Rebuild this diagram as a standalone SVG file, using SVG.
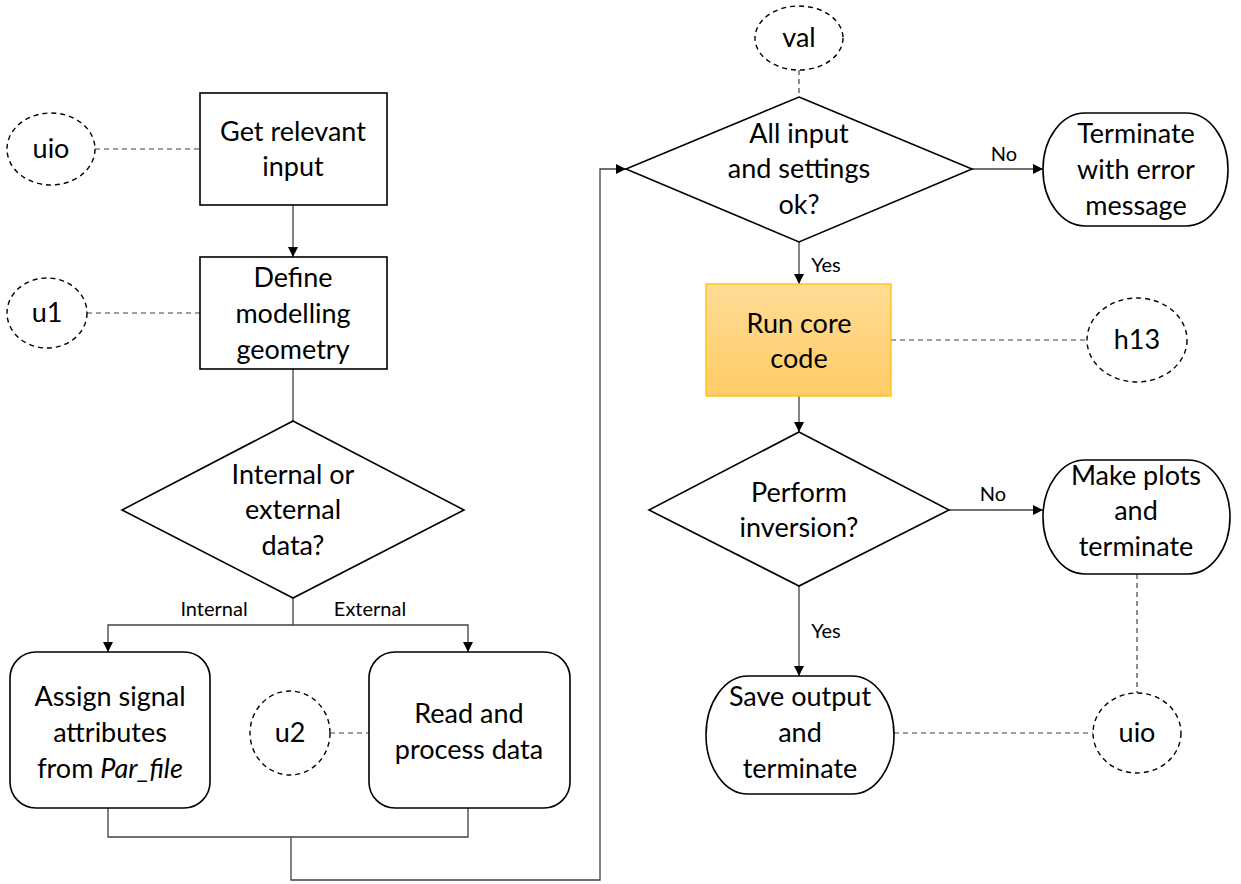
<svg xmlns="http://www.w3.org/2000/svg" width="1241" height="884" viewBox="0 0 1241 884">
  <style>
    .box { fill: #ffffff; stroke: #000000; stroke-width: 1.6; }
    .ref { fill: #ffffff; stroke: #000000; stroke-width: 1.4; stroke-dasharray: 5 4; }
    .flow { fill: none; stroke: #404040; stroke-width: 1.3; }
    .arrow { fill: none; stroke: #404040; stroke-width: 1.3; marker-end: url(#head); }
    .link { fill: none; stroke: #404040; stroke-width: 1.2; stroke-dasharray: 5 4; }
    text { font-family: Lato, "Liberation Sans", sans-serif; fill: #000000; text-anchor: middle; }
    .t { font-size: 27px; }
    .lbl { font-size: 20px; }
  </style>
  <defs>
    <marker id="head" viewBox="0 0 10 10" refX="10" refY="5" markerWidth="10" markerHeight="10" markerUnits="userSpaceOnUse" orient="auto">
      <path d="M0,0 L10,5 L0,10 Z" fill="#000000"/>
    </marker>
    <linearGradient id="core" x1="0" y1="0" x2="0" y2="1">
      <stop offset="0" stop-color="#FFDC96"/>
      <stop offset="1" stop-color="#FFCC66"/>
    </linearGradient>
  </defs>

  <!-- connectors -->
  <g id="connectors">
    <line class="arrow" x1="293" y1="205" x2="293" y2="257"/>
    <line class="flow" x1="293" y1="369" x2="293" y2="421"/>
    <polyline class="flow" points="293,598 293,625"/>
    <polyline class="arrow" points="293,625 108,625 108,652"/>
    <polyline class="arrow" points="293,625 468,625 468,652"/>
    <polyline class="flow" points="108,808 108,837 468,837 468,808"/>
    <polyline class="arrow" points="291,837 291,880 600,880 600,169 626,169"/>
    <line class="arrow" x1="972" y1="169" x2="1043" y2="169"/>
    <line class="arrow" x1="799" y1="242" x2="799" y2="284"/>
    <line class="arrow" x1="799" y1="396" x2="799" y2="432"/>
    <line class="arrow" x1="949" y1="510" x2="1043" y2="510"/>
    <line class="arrow" x1="799" y1="586" x2="799" y2="676"/>
    <!-- dashed reference links -->
    <line class="link" x1="95" y1="149" x2="200" y2="149"/>
    <line class="link" x1="87" y1="313" x2="200" y2="313"/>
    <line class="link" x1="330" y1="733" x2="369" y2="733"/>
    <line class="link" x1="799" y1="70" x2="799" y2="97"/>
    <line class="link" x1="891" y1="340" x2="1087" y2="340"/>
    <line class="link" x1="894" y1="733" x2="1093" y2="733"/>
    <line class="link" x1="1137" y1="574" x2="1137" y2="693"/>
    <!-- branch labels -->
    <text class="lbl" x="214" y="616">Internal</text>
    <text class="lbl" x="370" y="616">External</text>
    <text class="lbl" x="1004" y="161">No</text>
    <text class="lbl" x="826" y="272">Yes</text>
    <text class="lbl" x="993" y="501">No</text>
    <text class="lbl" x="826" y="638">Yes</text>
  </g>

  <g id="uio-top">
    <ellipse class="ref" cx="51" cy="149" rx="44" ry="36"/>
    <text class="t" x="51" y="158">uio</text>
  </g>

  <g id="get-input">
    <rect class="box" x="200" y="93" width="187" height="112"/>
    <text class="t" x="293" y="141">Get relevant</text>
    <text class="t" x="293" y="176">input</text>
  </g>

  <g id="u1">
    <ellipse class="ref" cx="47" cy="313" rx="40" ry="35"/>
    <text class="t" x="47" y="322">u1</text>
  </g>

  <g id="define-geometry">
    <rect class="box" x="200" y="257" width="187" height="112"/>
    <text class="t" x="293" y="287">Define</text>
    <text class="t" x="293" y="323">modelling</text>
    <text class="t" x="293" y="359">geometry</text>
  </g>

  <g id="data-source">
    <polygon class="box" points="293,421 464,510 293,598 122,510"/>
    <text class="t" x="293" y="484">Internal or</text>
    <text class="t" x="293" y="519">external</text>
    <text class="t" x="293" y="555">data?</text>
  </g>

  <g id="assign-attributes">
    <rect class="box" x="10" y="652" width="200" height="156" rx="26" ry="26"/>
    <text class="t" x="110" y="706">Assign signal</text>
    <text class="t" x="110" y="742">attributes</text>
    <text class="t" x="110" y="778">from <tspan font-style="italic">Par_file</tspan></text>
  </g>

  <g id="u2">
    <ellipse class="ref" cx="290" cy="733" rx="40" ry="42"/>
    <text class="t" x="290" y="742">u2</text>
  </g>

  <g id="read-data">
    <rect class="box" x="369" y="652" width="201" height="156" rx="26" ry="26"/>
    <text class="t" x="469" y="723">Read and</text>
    <text class="t" x="469" y="759">process data</text>
  </g>

  <g id="val">
    <ellipse class="ref" cx="799" cy="38" rx="44" ry="32"/>
    <text class="t" x="799" y="47">val</text>
  </g>

  <g id="input-check">
    <polygon class="box" points="799,97 972,169 799,242 626,169"/>
    <text class="t" x="799" y="143">All input</text>
    <text class="t" x="799" y="178">and settings</text>
    <text class="t" x="799" y="214">ok?</text>
  </g>

  <g id="terminate-error">
    <rect class="box" x="1043" y="113" width="185" height="113" rx="42" ry="56"/>
    <text class="t" x="1136" y="143">Terminate</text>
    <text class="t" x="1136" y="179">with error</text>
    <text class="t" x="1136" y="215">message</text>
  </g>

  <g id="run-core">
    <rect x="706" y="284" width="185" height="112" fill="url(#core)" stroke="#FFC000" stroke-width="1.3"/>
    <text class="t" x="799" y="333">Run core</text>
    <text class="t" x="799" y="368">code</text>
  </g>

  <g id="h13">
    <ellipse class="ref" cx="1137" cy="340" rx="50" ry="42"/>
    <text class="t" x="1137" y="349">h13</text>
  </g>

  <g id="inversion-check">
    <polygon class="box" points="799,432 949,510 799,586 649,510"/>
    <text class="t" x="799" y="502">Perform</text>
    <text class="t" x="799" y="537">inversion?</text>
  </g>

  <g id="make-plots">
    <rect class="box" x="1043" y="460" width="187" height="114" rx="42" ry="57"/>
    <text class="t" x="1136" y="485">Make plots</text>
    <text class="t" x="1136" y="520">and</text>
    <text class="t" x="1136" y="556">terminate</text>
  </g>

  <g id="save-output">
    <rect class="box" x="706" y="676" width="188" height="118" rx="42" ry="59"/>
    <text class="t" x="800" y="706">Save output</text>
    <text class="t" x="800" y="742">and</text>
    <text class="t" x="800" y="778">terminate</text>
  </g>

  <g id="uio-bottom">
    <ellipse class="ref" cx="1137" cy="733" rx="44" ry="40"/>
    <text class="t" x="1137" y="742">uio</text>
  </g>
</svg>
